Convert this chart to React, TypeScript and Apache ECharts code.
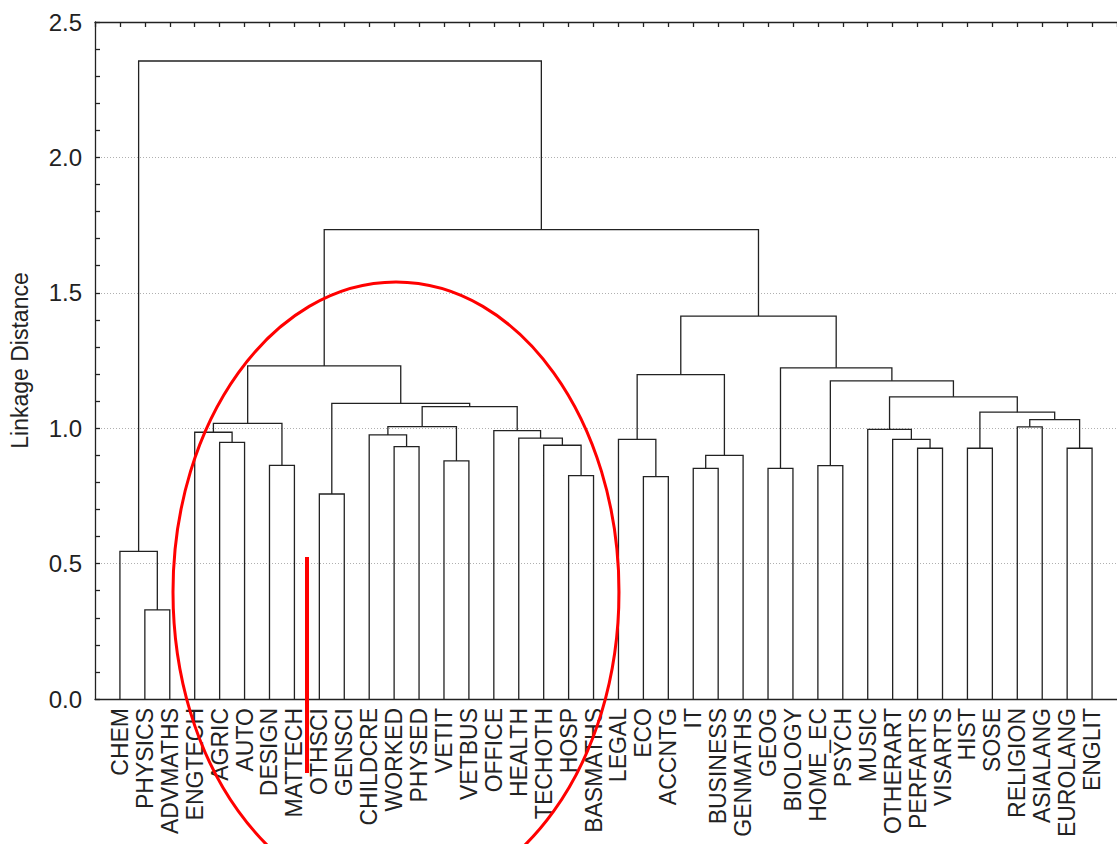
import React, { useEffect, useRef } from "react";
import * as echarts from "echarts";

// Leaf order along the x axis
const leaves = [
  "CHEM", "PHYSICS", "ADVMATHS", "ENGTECH", "AGRIC", "AUTO", "DESIGN", "MATTECH", "OTHSCI", "GENSCI",
  "CHILDCRE", "WORKED", "PHYSED", "VETIT", "VETBUS", "OFFICE", "HEALTH", "TECHOTH", "HOSP", "BASMATHS",
  "LEGAL", "ECO", "ACCNTG", "IT", "BUSINESS", "GENMATHS", "GEOG", "BIOLOGY", "HOME_EC", "PSYCH",
  "MUSIC", "OTHERART", "PERFARTS", "VISARTS", "HIST", "SOSE", "RELIGION", "ASIALANG", "EUROLANG", "ENGLIT",
];

// Merges: mergeA[k] + mergeB[k] joined at mergeHeight[k]; "m<k>" refers to merge k
const mergeA = [
  "PHYSICS", "CHEM", "AGRIC", "ENGTECH", "DESIGN", "m3", "OTHSCI", "WORKED", "CHILDCRE", "VETIT",
  "m8", "HOSP", "TECHOTH", "HEALTH", "OFFICE", "m10", "m6", "m5", "ECO", "LEGAL",
  "IT", "m20", "m19", "GEOG", "HOME_EC", "PERFARTS", "OTHERART", "MUSIC", "HIST", "RELIGION",
  "EUROLANG", "m29", "m28", "m27", "m24", "m23", "m22", "m17", "m1",
];
const mergeB = [
  "ADVMATHS", "m0", "AUTO", "m2", "MATTECH", "m4", "GENSCI", "PHYSED", "m7", "VETBUS",
  "m9", "BASMATHS", "m11", "m12", "m13", "m14", "m15", "m16", "ACCNTG", "m18",
  "BUSINESS", "GENMATHS", "m21", "BIOLOGY", "PSYCH", "VISARTS", "m25", "m26", "SOSE", "ASIALANG",
  "ENGLIT", "m30", "m31", "m32", "m33", "m34", "m35", "m36", "m37",
];
const mergeHeight = [
  0.329, 0.545, 0.948, 0.985, 0.863, 1.018, 0.757, 0.932, 0.975, 0.879,
  1.006, 0.825, 0.937, 0.963, 0.991, 1.080, 1.092, 1.230, 0.821, 0.959,
  0.852, 0.900, 1.198, 0.852, 0.862, 0.926, 0.959, 0.996, 0.926, 1.005,
  0.926, 1.032, 1.059, 1.116, 1.175, 1.223, 1.414, 1.733, 2.356,
];

const yTickLabels = ["0.0", "0.5", "1.0", "1.5", "2.0", "2.5"];

function buildLinks() {
  const pos: Record<string, { x: number; h: number }> = {};
  leaves.forEach((name, i) => {
    pos[name] = { x: i + 1, h: 0 };
  });
  const links: number[][] = [];
  mergeA.forEach((a, k) => {
    const pa = pos[a];
    const pb = pos[mergeB[k]];
    const h = mergeHeight[k];
    links.push([pa.x, pa.h, pb.x, pb.h, h]);
    pos["m" + k] = { x: (pa.x + pb.x) / 2, h };
  });
  return links;
}

const FONT = "'Liberation Sans', Arial, sans-serif";
const INK = "#222";

export default function App() {
  const ref = useRef<HTMLDivElement>(null);
  useEffect(() => {
    if (!ref.current) return;
    const chart = echarts.init(ref.current, undefined, { renderer: "svg" });
    const links = buildLinks();
    chart.setOption({
      animation: false,
      backgroundColor: "#fff",
      grid: { left: 94, right: 0, top: 22, bottom: 145 },
      xAxis: [
        {
          type: "value",
          position: "bottom",
          min: 0,
          max: leaves.length + 1,
          interval: 1,
          axisLine: { show: true, onZero: false, lineStyle: { color: INK, width: 1.3 } },
          axisTick: { show: false },
          splitLine: { show: false },
          axisLabel: {
            rotate: 90,
            margin: 9,
            fontFamily: FONT,
            fontSize: 23,
            color: INK,
            formatter: (v: number) => leaves[v - 1] ?? "",
          },
        },
        {
          type: "value",
          position: "top",
          min: 0,
          max: leaves.length + 1,
          interval: 1,
          axisLine: { show: true, onZero: false, lineStyle: { color: INK, width: 1.3 } },
          axisTick: { show: true, inside: true, length: 5, lineStyle: { color: INK, width: 1.3 } },
          axisLabel: { show: false },
          splitLine: { show: false },
        },
      ],
      yAxis: {
        type: "value",
        min: 0,
        max: 2.5,
        interval: 0.5,
        name: "Linkage Distance",
        nameLocation: "middle",
        nameRotate: 90,
        nameGap: 64,
        nameTextStyle: { fontFamily: FONT, fontSize: 23, color: INK },
        axisLine: { show: true, onZero: false, lineStyle: { color: INK, width: 1.3 } },
        axisTick: { show: true, inside: true, length: 5, lineStyle: { color: INK, width: 1.3 } },
        minorTick: { show: true, splitNumber: 5, length: 5, lineStyle: { color: INK, width: 1.3 } },
        axisLabel: {
          margin: 13,
          fontFamily: FONT,
          fontSize: 24,
          color: INK,
          formatter: (v: number) => yTickLabels[Math.round(v / 0.5)] ?? "",
        },
        splitLine: { show: true, lineStyle: { color: "#b0b0b0", type: [1, 2], width: 1 } },
      },
      series: [
        {
          type: "custom",
          xAxisIndex: 0,
          yAxisIndex: 0,
          dimensions: ["x1", "h1", "x2", "h2", "h"],
          encode: { x: [0, 2], y: [1, 3, 4] },
          data: links,
          silent: true,
          renderItem: (_params: any, api: any) => {
            const p0 = api.coord([api.value(0), api.value(1)]);
            const p1 = api.coord([api.value(0), api.value(4)]);
            const p2 = api.coord([api.value(2), api.value(4)]);
            const p3 = api.coord([api.value(2), api.value(3)]);
            return {
              type: "polyline",
              shape: { points: [p0, p1, p2, p3] },
              style: { stroke: INK, lineWidth: 1.3, fill: null },
            };
          },
        },
      ],
      graphic: [
        {
          type: "ellipse",
          silent: true,
          z: 100,
          shape: { cx: 396, cy: 592, rx: 223, ry: 310 },
          style: { fill: null, stroke: "#ff0000", lineWidth: 3 },
        },
        {
          type: "line",
          silent: true,
          z: 100,
          shape: { x1: 307, y1: 557, x2: 307, y2: 773 },
          style: { stroke: "#ff0000", lineWidth: 4 },
        },
      ],
    });
    return () => chart.dispose();
  }, []);
  return (
    <div
      ref={ref}
      style={{ position: "absolute", left: 0, top: 0, width: 1117, height: 844, background: "#fff" }}
    />
  );
}
